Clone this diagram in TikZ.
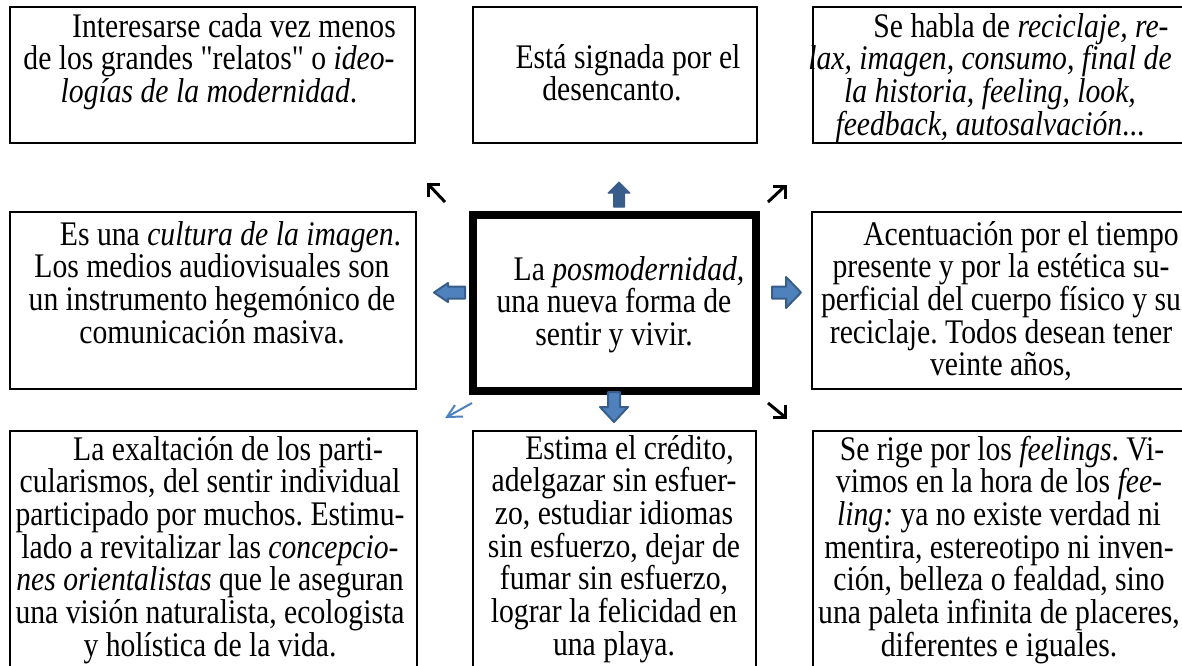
\documentclass[tikz,border=0pt]{standalone}
\usepackage{fontspec}
\setmainfont{Liberation Serif}[FakeStretch=0.86]
\newfontfamily\qfont{Liberation Serif}[FakeStretch=0.86]
\newcommand{\straightq}{{\qfont\char"22}}
\newcommand{\boxfont}{\fontsize{34.5}{32.7}\selectfont\frenchspacing\spaceskip 7.4pt\relax}
\usetikzlibrary{fit}
\definecolor{arrowdark}{HTML}{385D8A}
\definecolor{arrowfill}{HTML}{4F81BD}
\begin{document}
\begin{tikzpicture}[x=1pt,y=-1pt,
  box/.style={draw, line width=2pt, inner sep=0pt},
  bigbox/.style={draw, line width=8pt, inner sep=0pt},
  txt/.style={inner sep=0pt, text width=460pt, align=flush center,
    font=\boxfont, anchor=base},
  blockarr/.style={fill=arrowfill, draw=arrowdark, line width=2pt, line join=round},
  blockarrdark/.style={fill=arrowdark, draw=arrowdark, line width=1pt, line join=round},
  thinarr/.style={draw=black, line width=3pt},
  bluearr/.style={draw=arrowfill, line width=2pt}]
\path[use as bounding box] (0,0) rectangle (1182,665);
\clip (0,0) rectangle (1182,665);

% boxes
\node[box, fit={(10,7) (415,143)}] (tl) {};
\node[box, fit={(473,7) (757,143)}] (tm) {};
\node[box, fit={(813,7) (1200,143)}] (tr) {};
\node[box, fit={(10,212) (416,389)}] (ml) {};
\node[bigbox, fit={(473,215) (756,391)}] (ctr) {};
\node[box, fit={(812,212) (1200,389)}] (mr) {};
\node[box, fit={(10,431) (417,690)}] (bl) {};
\node[box, fit={(473,431) (756,690)}] (bm) {};
\node[box, fit={(813,431) (1200,690)}] (br) {};

% texts
\node[txt] (tlt) at (209,37) {\hspace*{50pt}Interesarse cada vez menos\\
de los grandes \straightq relatos\straightq{} o \textit{ideo-}\\
\textit{logías de la modernidad}.};
\node[txt] (tmt) at (612,68) {\hspace*{32pt}Está signada por el\\
desencanto.};
\node[txt] (trt) at (990,37) {\hspace*{62pt}Se habla de \textit{reciclaje, re-}\\
\textit{lax, imagen, consumo, final de}\\
\textit{la historia, feeling, look,}\\
\textit{feedback, autosalvación}...};
\node[txt] (mlt) at (212,245) {\hspace*{37pt}Es una \textit{cultura de la imagen}.\\
Los medios audiovisuales son\\
un instrumento hegemónico de\\
comunicación masiva.};
\node[txt] (ctrt) at (614,280) {\hspace*{30pt}La \textit{posmodernidad,}\\
una nueva forma de\\
sentir y vivir.};
\node[txt] (mrt) at (1001,245) {\hspace*{40pt}Acentuación por el tiempo\\
presente y por la estética su-\\
perficial del cuerpo físico y su\\
reciclaje. Todos desean tener\\
veinte años,};
\node[txt] (blt) at (210,460) {\hspace*{36pt}La exaltación de los parti-\\
cularismos, del sentir individual\\
participado por muchos. Estimu-\\
lado a revitalizar las \textit{concepcio-}\\
\textit{nes orientalistas} que le aseguran\\
una visión naturalista, ecologista\\
y holística de la vida.};
\node[txt] (bmt) at (614,459) {\hspace*{31pt}Estima el crédito,\\
adelgazar sin esfuer-\\
zo, estudiar idiomas\\
sin esfuerzo, dejar de\\
fumar sin esfuerzo,\\
lograr la felicidad en\\
una playa.};
\node[txt] (brt) at (999,460) {\hspace*{6pt}Se rige por los \textit{feelings}. Vi-\\
vimos en la hora de los \textit{fee-}\\
\textit{ling:} ya no existe verdad ni\\
mentira, estereotipo ni inven-\\
ción, belleza o fealdad, sino\\
una paleta infinita de placeres,\\
diferentes e iguales.};

% block arrows
\path[blockarrdark] (619,182) -- (630,193) -- (624.5,193) -- (624.5,207) -- (613.5,207) -- (613.5,193) -- (608,193) -- cycle;
\path[blockarr] (608,392) -- (620,392) -- (620,407) -- (628,407) -- (614,422) -- (600,407) -- (608,407) -- cycle;
\path[blockarr] (434,292.5) -- (448,283) -- (448,286.5) -- (465,286.5) -- (465,298.5) -- (448,298.5) -- (448,302) -- cycle;
\path[blockarr] (772,286.5) -- (786,286.5) -- (786,277) -- (801,292.5) -- (786,308) -- (786,298.5) -- (772,298.5) -- cycle;

% small line arrows
\coordinate (nw) at (428,184);
\draw[thinarr] ([xshift=12pt]nw) -- (nw) -- ([yshift=-13pt]nw);
\draw[thinarr] (nw) -- (445,202);
\coordinate (ne) at (785,186);
\draw[thinarr] ([xshift=-12pt]ne) -- (ne) -- ([yshift=-13pt]ne);
\draw[thinarr] (ne) -- (768,202);
\coordinate (se) at (785,417);
\draw[thinarr] ([xshift=-12pt]se) -- (se) -- ([yshift=12pt]se);
\draw[thinarr] (se) -- (768,403);
\coordinate (sw) at (447,417);
\draw[bluearr] (455,405) -- (sw) -- (463,416.5);
\draw[bluearr] (sw) -- (472,403);
\end{tikzpicture}
\end{document}
